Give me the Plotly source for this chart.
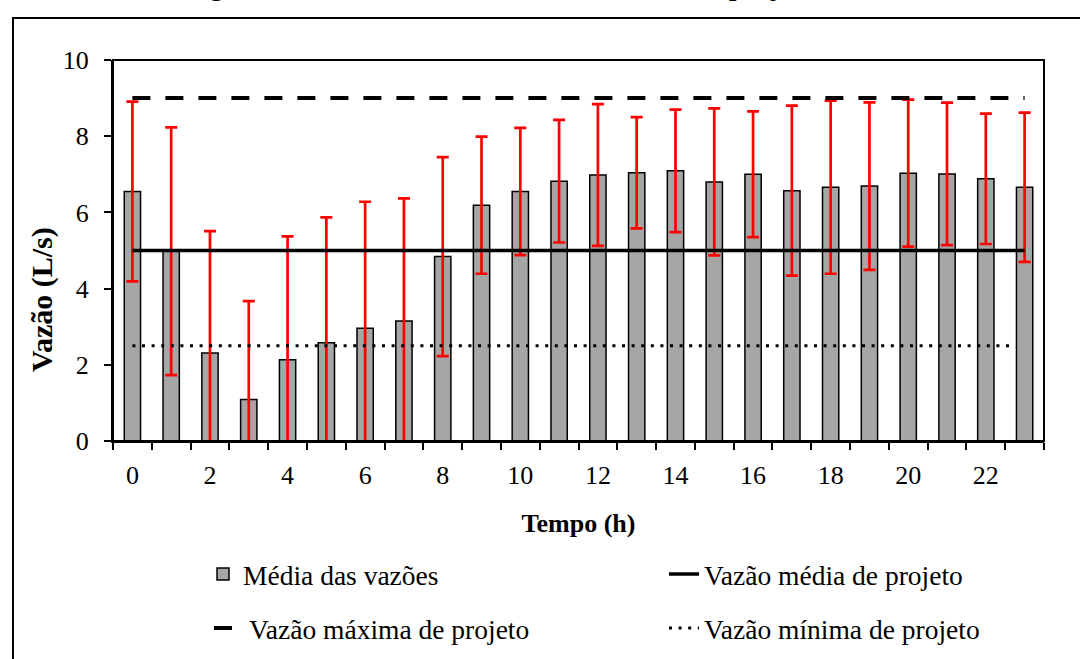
import plotly.graph_objects as go

# ---- data ----
horas = list(range(24))
media_vazoes = [6.55, 4.98, 2.31, 1.09, 2.13, 2.58, 2.96, 3.15, 4.84, 6.19,
                6.55, 6.82, 6.98, 7.04, 7.09, 6.80, 7.00, 6.57, 6.66, 6.69,
                7.03, 7.01, 6.88, 6.66]
desvio = [2.36, 3.25, 3.20, 2.58, 3.24, 3.29, 3.32, 3.22, 2.61, 1.80,
          1.67, 1.61, 1.86, 1.46, 1.61, 1.93, 1.65, 2.23, 2.27, 2.20,
          1.93, 1.87, 1.71, 1.96]
vazao_media_projeto = 5.0
vazao_maxima_projeto = 9.0
vazao_minima_projeto = 2.5
x_ticks = [0, 2, 4, 6, 8, 10, 12, 14, 16, 18, 20, 22]
y_ticks = [0, 2, 4, 6, 8, 10]

FONT = "Liberation Serif, Times New Roman, serif"

# plot area in pixels
L, R, T, B = 113, 1044, 60, 441
W, H = 1080, 659
pw, ph = R - L, B - T

def px_x(x):
    return (x - L) / pw

def px_y(y):
    return (B - y) / ph

fig = go.Figure()

fig.add_trace(go.Bar(
    x=horas, y=media_vazoes, width=0.42,
    marker=dict(color="#A6A6A6", line=dict(color="black", width=1.5)),
    error_y=dict(type="data", array=desvio, color="#FF0000", thickness=2.7, width=6),
    name="Média das vazões", legend="legend",
))
fig.add_trace(go.Scatter(
    x=[horas[0], horas[-1]], y=[vazao_media_projeto] * 2, mode="lines",
    line=dict(color="black", width=3.5),
    name="Vazão média de projeto", legend="legend",
))
fig.add_trace(go.Scatter(
    x=[horas[0], horas[-1]], y=[vazao_maxima_projeto] * 2, mode="lines",
    line=dict(color="black", width=4, dash="18px,15px"),
    name="Vazão máxima de projeto", legend="legend2",
))
fig.add_trace(go.Scatter(
    x=[horas[0], horas[-1] - 0.3], y=[vazao_minima_projeto] * 2, mode="lines",
    line=dict(color="black", width=3, dash="3px,6.6px"),
    name="Vazão mínima de projeto", legend="legend2",
))

legend_common = dict(orientation="h", xanchor="left", yanchor="middle",
                     entrywidthmode="pixels",
                     font=dict(family=FONT, size=27.5, color="black"),
                     bgcolor="rgba(0,0,0,0)", traceorder="normal")

fig.update_layout(
    width=W, height=H,
    margin=dict(l=L, r=W - R, t=T, b=H - B, autoexpand=False),
    paper_bgcolor="white", plot_bgcolor="white",
    font=dict(family=FONT, size=26, color="black"),
    showlegend=True,
    legend=dict(x=px_x(203), y=px_y(574), entrywidth=416, **legend_common),
    legend2=dict(x=px_x(209), y=px_y(628), entrywidth=410, **legend_common),
    xaxis=dict(
        range=[-0.5, 23.5], tickmode="array", tickvals=x_ticks,
        ticktext=[str(v) for v in x_ticks], ticks="", ticklabelstandoff=10,
        showline=True, linecolor="black", linewidth=2, showgrid=False, zeroline=False,
        minor=dict(tick0=-0.5, dtick=1, ticks="outside", ticklen=7, tickwidth=2,
                   tickcolor="black", showgrid=False),
        title=dict(text="<b>Tempo (h)</b>", standoff=25,
                   font=dict(family=FONT, size=26)),
        tickfont=dict(family=FONT, size=26),
    ),
    yaxis=dict(
        range=[0, 10], tickmode="array", tickvals=y_ticks,
        ticks="outside", ticklen=7, tickwidth=2, tickcolor="black",
        ticklabelstandoff=10,
        showline=True, linecolor="black", linewidth=2, showgrid=False, zeroline=False,
        tickfont=dict(family=FONT, size=26),
    ),
    shapes=[
        dict(type="rect", xref="paper", yref="paper", x0=0, x1=1, y0=0, y1=1,
             line=dict(color="black", width=2), layer="above"),
        dict(type="rect", xref="paper", yref="paper",
             x0=px_x(13), x1=px_x(1090), y0=px_y(18), y1=px_y(670),
             line=dict(color="black", width=2)),
    ],
    annotations=[
        dict(text="Figura 5 – Vazões médias observadas e de projeto",
             xref="paper", yref="paper", x=px_x(500), y=px_y(2),
             xanchor="center", yanchor="bottom", showarrow=False, borderpad=0,
             font=dict(family=FONT, size=32, color="black")),
        dict(text="<b>Vazão (L/s)</b>", textangle=-90,
             xref="paper", yref="paper", x=px_x(42), y=px_y(300),
             xanchor="center", yanchor="middle", showarrow=False,
             font=dict(family=FONT, size=30, color="black")),
    ],
)

fig.write_html("out.html")
